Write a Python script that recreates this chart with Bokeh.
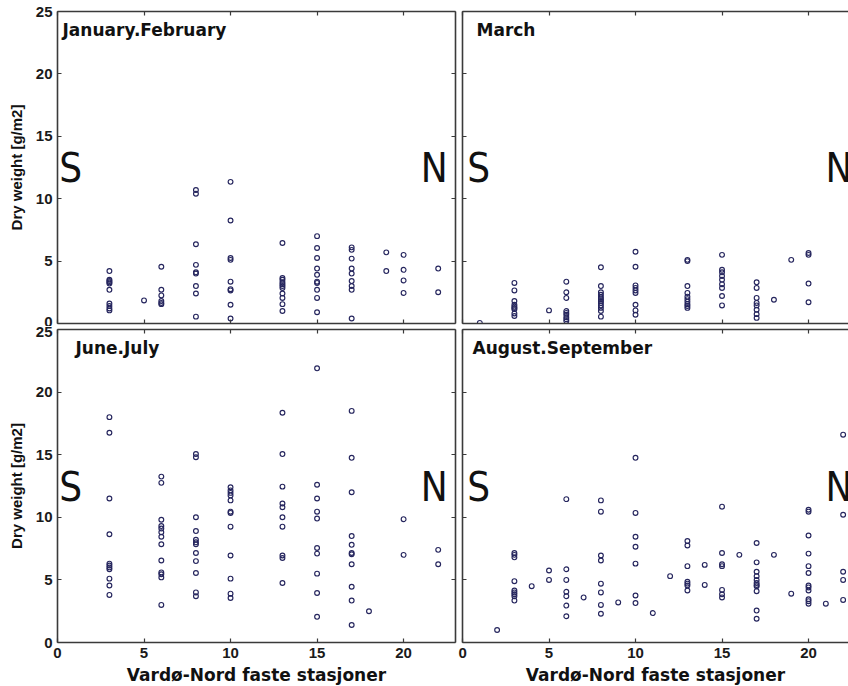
from bokeh.plotting import figure
from bokeh.layouts import column, row
from bokeh.models import LinearAxis, Range1d, FixedTicker, Label, ColumnDataSource
from bokeh.embed import file_html
from bokeh.resources import INLINE

# ---------------- data (station number -> dry weight values, g/m2) ----------------
jan_feb_stations = [3, 5, 6, 8, 10, 13, 15, 17, 19, 20, 22]
jan_feb_weights = [
    [4.2, 3.5, 3.4, 3.3, 3.2, 2.7, 1.6, 1.4, 1.2, 1.05],
    [1.85],
    [4.55, 2.7, 2.25, 1.8, 1.65, 1.55],
    [10.7, 10.4, 6.35, 4.7, 4.1, 4.0, 3.0, 2.4, 0.55],
    [11.35, 8.25, 5.25, 5.1, 3.35, 2.75, 2.65, 1.5, 0.4],
    [6.45, 3.65, 3.5, 3.3, 3.15, 3.0, 2.85, 2.4, 2.05, 1.55, 1.0],
    [7.0, 6.05, 5.25, 4.4, 3.9, 3.35, 3.25, 2.7, 2.05, 0.9],
    [6.1, 5.9, 5.2, 4.4, 4.0, 3.4, 3.0, 2.7, 0.4],
    [5.7, 4.2],
    [5.5, 4.3, 3.45, 2.45],
    [4.4, 2.5],
]

march_stations = [1, 3, 5, 6, 8, 10, 13, 15, 17, 18, 19, 20]
march_weights = [
    [0.05],
    [3.25, 2.65, 1.8, 1.5, 1.35, 1.25, 1.15, 0.8, 0.6],
    [1.05],
    [3.35, 2.5, 2.05, 1.0, 0.85, 0.7, 0.5, 0.35, 0.2],
    [4.5, 3.0, 2.5, 2.3, 2.1, 1.95, 1.8, 1.65, 1.45, 1.25, 1.0, 0.55],
    [5.75, 4.55, 3.05, 2.85, 2.65, 2.45, 1.5, 1.05, 0.7],
    [5.1, 5.0, 3.0, 2.45, 2.15, 1.95, 1.75, 1.55, 1.4, 1.25],
    [5.5, 4.3, 4.1, 3.8, 3.5, 3.15, 2.85, 2.2, 1.45],
    [3.3, 2.85, 2.05, 1.65, 1.45, 1.1, 0.75, 0.45],
    [1.9],
    [5.1],
    [5.65, 5.5, 3.2, 1.7],
]

jun_jul_stations = [3, 6, 8, 10, 13, 15, 17, 18, 20, 22]
jun_jul_weights = [
    [18.0, 16.75, 11.5, 8.65, 6.3, 6.15, 6.0, 5.85, 5.1, 4.55, 3.8],
    [13.25, 12.75, 9.8, 9.3, 9.1, 8.8, 8.45, 7.85, 6.55, 5.6, 5.45, 5.2, 3.0],
    [15.05, 14.8, 10.0, 8.9, 8.2, 8.0, 7.85, 7.15, 6.5, 5.55, 4.0, 3.7],
    [12.4, 12.15, 11.95, 11.75, 11.35, 10.45, 10.35, 9.25, 6.95, 5.1, 3.9, 3.55],
    [18.35, 15.05, 12.45, 11.1, 10.8, 10.0, 9.25, 6.95, 6.75, 4.75],
    [21.9, 12.6, 11.5, 10.45, 9.9, 7.55, 7.1, 5.5, 3.95, 2.05],
    [18.5, 14.75, 12.0, 8.5, 7.8, 7.15, 7.05, 6.25, 4.45, 3.35, 1.4],
    [2.5],
    [9.85, 7.0],
    [7.4, 6.25],
]

aug_sep_stations = [2, 3, 4, 5, 6, 7, 8, 9, 10, 11, 12, 13, 14, 15, 16, 17, 18, 19, 20, 21, 22]
aug_sep_weights = [
    [1.0],
    [7.15, 7.0, 6.8, 4.9, 4.15, 4.0, 3.85, 3.7, 3.35],
    [4.5],
    [5.75, 5.0],
    [11.45, 5.85, 5.0, 4.05, 3.7, 2.95, 2.1],
    [3.6],
    [11.35, 10.45, 6.95, 6.55, 4.7, 4.0, 3.0, 2.3],
    [3.2],
    [14.75, 10.35, 8.45, 7.65, 6.3, 3.75, 3.15],
    [2.35],
    [5.3],
    [8.1, 7.75, 6.1, 4.85, 4.7, 4.55, 4.15],
    [6.2, 4.6],
    [10.85, 7.15, 6.25, 6.1, 4.2, 3.85, 3.6],
    [7.0],
    [7.95, 6.4, 5.65, 5.3, 5.0, 4.75, 4.6, 4.5, 4.1, 2.55, 1.9],
    [7.0],
    [3.9],
    [10.6, 10.45, 8.55, 7.1, 6.1, 5.55, 4.55, 4.4, 4.15, 3.45, 3.3, 3.1],
    [3.1],
    [16.6, 10.2, 5.65, 5.0, 3.4],
]

x_ticks = [0, 5, 10, 15, 20, 25]
y_ticks = [0, 5, 10, 15, 20, 25]
y_label = "Dry weight [g/m2]"
x_label = "Vardø-Nord faste stasjoner"

AXIS_COLOR = "#3a3a3a"
MARK_COLOR = "#26265e"
SN_FONT = "DejaVu Sans Condensed, Liberation Sans, sans-serif"


def add_axis(p, side, ticks, show_labels, label=None):
    ax = LinearAxis(ticker=FixedTicker(ticks=ticks))
    ax.major_tick_in = 4
    ax.major_tick_out = 0
    ax.minor_tick_line_color = None
    ax.axis_line_color = AXIS_COLOR
    ax.axis_line_width = 1.6
    ax.major_tick_line_color = AXIS_COLOR
    ax.major_tick_line_width = 1.2
    if show_labels:
        ax.major_label_text_font = "Liberation Sans"
        ax.major_label_text_font_style = "bold"
        ax.major_label_text_font_size = "15px"
        ax.major_label_text_color = "#1a1a1a"
        ax.major_label_standoff = 5
    else:
        ax.major_label_text_font_size = "0px"
        ax.major_label_standoff = 0
        ax.major_label_text_color = None
    if label:
        ax.axis_label = label
        if side == "left":
            ax.axis_label_text_font = "Liberation Sans"
            ax.axis_label_text_font_size = "15px"
            ax.axis_label_standoff = 8
        else:
            ax.axis_label_text_font = "DejaVu Sans"
            ax.axis_label_text_font_size = "17px"
            ax.axis_label_standoff = 4
        ax.axis_label_text_font_style = "bold"
        ax.axis_label_text_color = "#111111"
    p.add_layout(ax, side)


def make_panel(title, stations, weights, top, left, title_dx, s_dx):
    xs, ys = [], []
    for st, vals in zip(stations, weights):
        for v in vals:
            xs.append(st)
            ys.append(v)
    src = ColumnDataSource(dict(x=xs, y=ys))

    x_end = 23.0 if left else 22.31
    p = figure(
        frame_width=398 if left else 386,
        frame_height=312 if top else 313,
        x_range=Range1d(0, x_end),
        y_range=Range1d(0, 25),
        x_axis_location=None,
        y_axis_location=None,
        output_backend="svg",
        toolbar_location=None,
        min_border_left=57 if left else 4,
        min_border_right=3 if left else 0,
        min_border_top=11 if top else 3,
        min_border_bottom=3 if top else 44,
        background_fill_color="white",
        border_fill_color="white",
        outline_line_color=None,
    )
    p.grid.visible = False

    add_axis(p, "left", y_ticks, left, y_label if left else None)
    add_axis(p, "below", x_ticks, not top, None if top else x_label)
    add_axis(p, "above", x_ticks, False)
    if left:
        add_axis(p, "right", y_ticks, False)

    p.scatter("x", "y", source=src, marker="circle", size=4.8,
              fill_color=None, line_color=MARK_COLOR, line_width=1.15)

    p.add_layout(Label(x=title_dx, y=24.3, text=title, text_align="left",
                       text_baseline="top", text_font="DejaVu Sans",
                       text_font_style="bold", text_font_size="17px",
                       text_color="#111111"))
    p.add_layout(Label(x=s_dx, y=12.45, text="S", text_align="left",
                       text_baseline="alphabetic", text_font=SN_FONT,
                       text_font_size="40px", text_color="#111111"))
    p.add_layout(Label(x=22.54, y=12.45, text="N", text_align="right",
                       text_baseline="alphabetic", text_font=SN_FONT,
                       text_font_size="40px", text_color="#111111"))
    return p


p1 = make_panel("January.February", jan_feb_stations, jan_feb_weights, True, True, 0.29, 0.1)
p2 = make_panel("March", march_stations, march_weights, True, False, 0.81, 0.28)
p3 = make_panel("June.July", jun_jul_stations, jun_jul_weights, False, True, 1.04, 0.1)
p4 = make_panel("August.September", aug_sep_stations, aug_sep_weights, False, False, 0.58, 0.28)

layout = column(row(p1, p2, spacing=0), row(p3, p4, spacing=0), spacing=0)

open("out.html", "w").write(file_html(layout, INLINE))
